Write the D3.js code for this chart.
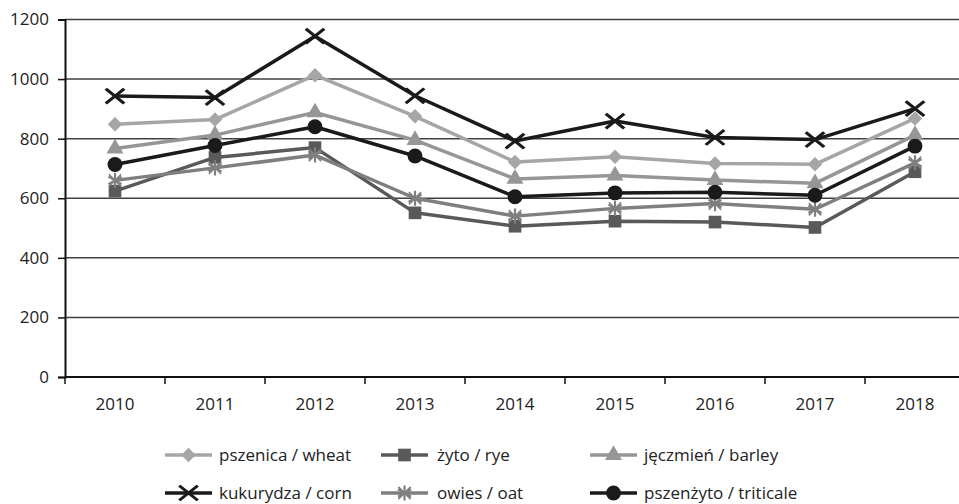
<!DOCTYPE html>
<html><head><meta charset="utf-8">
<script src="https://cdn.jsdelivr.net/npm/d3@7"></script>
<style>body{margin:0;background:#fff}svg{display:block}text{font-family:"Open Sans",sans-serif;fill:#222}</style>
</head><body>
<svg id="c" width="959" height="504"></svg>
<script>
const years = ["2010","2011","2012","2013","2014","2015","2016","2017","2018"];
const yTicks = [0,200,400,600,800,1000,1200];
const wheat = [848,864,1013,875,722,739,717,714,868];
const rye = [624,737,770,551,506,523,520,502,689];
const barley = [767,812,888,795,665,676,661,650,812];
const corn = [943,938,1144,944,792,859,804,797,901];
const oat = [660,702,745,600,540,566,582,563,719];
const triticale = [713,777,840,742,605,618,620,610,775];
const seriesNames = ["pszenica / wheat","żyto / rye","jęczmień / barley","kukurydza / corn","owies / oat","pszenżyto / triticale"];

const series = [
  {name:seriesNames[0], values:wheat, color:"#a6a6a6", sym:"diamond"},
  {name:seriesNames[1], values:rye, color:"#595959", sym:"square"},
  {name:seriesNames[2], values:barley, color:"#969696", sym:"triangle"},
  {name:seriesNames[3], values:corn, color:"#1a1a1a", sym:"x"},
  {name:seriesNames[4], values:oat, color:"#7f7f7f", sym:"star"},
  {name:seriesNames[5], values:triticale, color:"#1a1a1a", sym:"circle"}
];

const svg = d3.select("#c");
const x = d3.scaleBand().domain(years).range([65,965]).padding(0);
const y = d3.scaleLinear().domain([0,1200]).range([377,19.5]);
const FS = "17px";

// gridlines
svg.append("g").selectAll("line").data(yTicks.filter(d=>d>0)).join("line")
  .attr("x1",65).attr("x2",959).attr("y1",d=>y(d)).attr("y2",d=>y(d))
  .attr("stroke","#404040").attr("stroke-width",1.5);

// y axis
const ya = svg.append("g").attr("transform","translate(65,0)")
  .call(d3.axisLeft(y).tickValues(yTicks).tickFormat(d3.format("d")).tickSize(7).tickPadding(9));
ya.select(".domain").attr("stroke","#111").attr("stroke-width",2);
ya.selectAll(".tick line").attr("stroke","#111").attr("stroke-width",1.5);
ya.selectAll("text").style("font-size",FS).attr("fill","#222");

// x axis
const xa = svg.append("g").attr("transform","translate(0,377)")
  .call(d3.axisBottom(x).tickSize(0).tickPadding(21));
xa.select(".domain").remove();
xa.selectAll("text").style("font-size",FS).attr("fill","#222");
svg.append("line").attr("x1",65).attr("x2",959).attr("y1",377).attr("y2",377).attr("stroke","#111").attr("stroke-width",2);
svg.append("g").selectAll("line").data(years).join("line")
  .attr("x1",d=>x(d)).attr("x2",d=>x(d)).attr("y1",377).attr("y2",384)
  .attr("stroke","#111").attr("stroke-width",1.5);

function drawSym(g, sym, color, cx, cy){
  if(sym==="diamond"){
    g.append("path").attr("d",d3.symbol(d3.symbolSquare,105)()).attr("transform",`translate(${cx},${cy}) rotate(45)`).attr("fill",color);
  } else if(sym==="square"){
    g.append("path").attr("d",d3.symbol(d3.symbolSquare,160)()).attr("transform",`translate(${cx},${cy})`).attr("fill",color);
  } else if(sym==="triangle"){
    g.append("path").attr("d",d3.symbol(d3.symbolTriangle,125)()).attr("transform",`translate(${cx},${cy})`).attr("fill",color);
  } else if(sym==="circle"){
    g.append("path").attr("d",d3.symbol(d3.symbolCircle,175)()).attr("transform",`translate(${cx},${cy})`).attr("fill",color);
  } else if(sym==="x"){
    g.append("path").attr("d",d3.symbol(d3.symbolTimes,170)()).attr("transform",`translate(${cx},${cy}) scale(1.15,0.92)`).attr("fill","none").attr("stroke",color).attr("stroke-width",3);
  } else if(sym==="star"){
    g.append("path").attr("d",d3.symbol(d3.symbolAsterisk,160)()).attr("transform",`translate(${cx},${cy})`).attr("fill","none").attr("stroke",color).attr("stroke-width",2.2);
    g.append("path").attr("d",d3.symbol(d3.symbolTimes,100)()).attr("transform",`translate(${cx},${cy})`).attr("fill","none").attr("stroke",color).attr("stroke-width",1.6);
  }
}

const line = d3.line().x((d,i)=>x(years[i])+x.bandwidth()/2).y(d=>y(d));
series.forEach(s=>{
  const g = svg.append("g");
  g.append("path").datum(s.values).attr("d",line).attr("fill","none").attr("stroke",s.color).attr("stroke-width",3.5).attr("stroke-linejoin","round");
  s.values.forEach((v,i)=>drawSym(g,s.sym,s.color,x(years[i])+x.bandwidth()/2,y(v)));
});

// legend
const legPos = [[165,455],[381,455],[590,455],[165,493],[381,493],[590,493]];
series.forEach((s,i)=>{
  const [lx,ly] = legPos[i];
  const g = svg.append("g");
  g.append("line").attr("x1",lx).attr("x2",lx+47).attr("y1",ly).attr("y2",ly).attr("stroke",s.color).attr("stroke-width",3.5);
  drawSym(g,s.sym,s.color,lx+23.5,ly);
  g.append("text").attr("x",lx+(i%3===1?56:54)).attr("y",ly).attr("dy","0.35em").style("font-size",FS).text(s.name);
});
</script>
</body></html>
